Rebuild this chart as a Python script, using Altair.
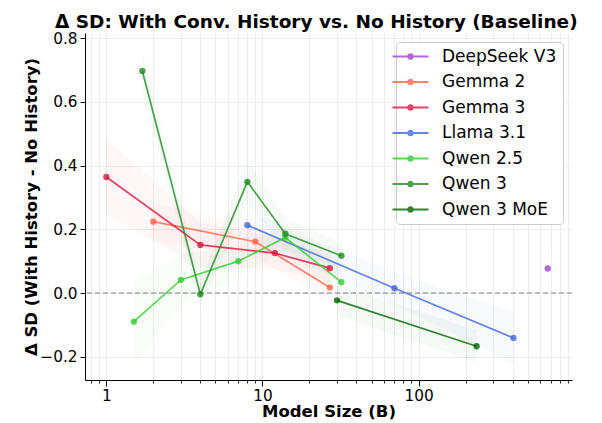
import altair as alt
import pandas as pd

families = ["DeepSeek V3", "Gemma 2", "Gemma 3", "Llama 3.1", "Qwen 2.5", "Qwen 3", "Qwen 3 MoE"]
colors = ["#a040d8", "#ff6347", "#dc143c", "#4169e1", "#32cd32", "#228b22", "#006400"]

deepseek_size = [671]
deepseek_delta = [0.077]
deepseek_err = [0.045]

gemma2_size = [2, 9, 27]
gemma2_delta = [0.224, 0.161, 0.017]
gemma2_err = [0.06, 0.05, 0.045]

gemma3_size = [1, 4, 12, 27]
gemma3_delta = [0.364, 0.151, 0.125, 0.078]
gemma3_err = [0.12, 0.07, 0.05, 0.045]

llama_size = [8, 70, 405]
llama_delta = [0.213, 0.015, -0.141]
llama_err = [0.04, 0.05, 0.08]

qwen25_size = [1.5, 3, 7, 14, 32]
qwen25_delta = [-0.090, 0.041, 0.100, 0.174, 0.034]
qwen25_err = [0.13, 0.08, 0.05, 0.04, 0.04]

qwen3_size = [1.7, 4, 8, 14, 32]
qwen3_delta = [0.697, -0.004, 0.349, 0.186, 0.117]
qwen3_err = [0.06, 0.04, 0.07, 0.05, 0.04]

qwen3moe_size = [30, 235]
qwen3moe_delta = [-0.023, -0.167]
qwen3moe_err = [0.05, 0.05]

x_major = [1, 10, 100]
x_minor_ticks = [0.8, 0.9, 2, 3, 4, 5, 6, 7, 8, 9, 20, 30, 40, 50, 60, 70, 80, 90,
                 200, 300, 400, 500, 600, 700, 800, 900]
y_ticks = [-0.2, 0.0, 0.2, 0.4, 0.6, 0.8]

series = [
    ("DeepSeek V3", deepseek_size, deepseek_delta, deepseek_err),
    ("Gemma 2", gemma2_size, gemma2_delta, gemma2_err),
    ("Gemma 3", gemma3_size, gemma3_delta, gemma3_err),
    ("Llama 3.1", llama_size, llama_delta, llama_err),
    ("Qwen 2.5", qwen25_size, qwen25_delta, qwen25_err),
    ("Qwen 3", qwen3_size, qwen3_delta, qwen3_err),
    ("Qwen 3 MoE", qwen3moe_size, qwen3moe_delta, qwen3moe_err),
]
rows = []
for fam, xs, ys, es in series:
    for x, y, e in zip(xs, ys, es):
        rows.append({"family": fam, "size": x, "delta": y, "lo": y - e, "hi": y + e})
df = pd.DataFrame(rows)

all_x = sorted(x_major + x_minor_ticks)
is_major = "abs(log(datum.value)/LN10 - round(log(datum.value)/LN10)) < 0.000001"

xscale = alt.Scale(type="log", domain=[0.73, 960], nice=False)
yscale = alt.Scale(domain=[-0.273, 0.816], nice=False, zero=False)
# legend scale has an explicit domain; the helper scales (bands, lines) derive the
# same alphabetical order from the data, so their disabled legends are not merged
legend_scale = alt.Scale(domain=families, range=colors)
helper_scale = alt.Scale(range=colors)

x_enc = alt.X("size:Q", scale=xscale,
              axis=alt.Axis(values=all_x, title="Model Size (B)",
                            labelExpr="(" + is_major + ") ? datum.value : ''",
                            tickSize={"condition": {"test": is_major, "value": 6}, "value": 3},
                            tickWidth={"condition": {"test": is_major, "value": 1}, "value": 0.8},
                            labelFontSize=15.3, labelPadding=2, labelFlush=False,
                            titleFontSize=16.5, titleFontWeight="bold", titlePadding=0))
y_enc = alt.Y("delta:Q", scale=yscale,
              axis=alt.Axis(values=y_ticks, format=".1f", title="Δ SD (With History - No History)",
                            labelFontSize=15.3, tickSize=5, labelPadding=3,
                            titleFontSize=16.5, titleFontWeight="bold", titlePadding=0))

base = alt.Chart(df)

bands = base.mark_area(opacity=0.035).encode(
    x=alt.X("size:Q", scale=xscale),
    y=alt.Y("lo:Q", scale=yscale),
    y2="hi:Q",
    fill=alt.Fill("family:N", scale=helper_scale, legend=None),
    detail="family:N",
)

single = base.transform_filter(alt.datum.family == "DeepSeek V3").mark_rule(opacity=0.06, strokeWidth=1).encode(
    x=alt.X("size:Q", scale=xscale),
    y=alt.Y("lo:Q", scale=yscale),
    y2="hi:Q",
    stroke=alt.Stroke("family:N", scale=helper_scale, legend=None),
)

zero_df = pd.DataFrame({"y": [0.0]})
zero_line = alt.Chart(zero_df).mark_rule(color="#808080", strokeDash=[5, 3], strokeWidth=1).encode(
    y=alt.Y("y:Q", scale=yscale)
)

lines = base.mark_line(strokeWidth=1.7, opacity=0.8).encode(
    x=x_enc, y=y_enc,
    stroke=alt.Stroke("family:N", scale=helper_scale, legend=None),
    detail="family:N",
)

# legend glyph: short line with a dot (path overflows the nominal symbol box horizontally)
sym_path = ("M-2.25,-0.125L2.25,-0.125L2.25,0.125L-2.25,0.125Z"
            "M-0.42,0A0.42,0.42,0,1,1,0.42,0A0.42,0.42,0,1,1,-0.42,0Z")

points = base.mark_point(filled=True, size=40, opacity=0.8).encode(
    x=alt.X("size:Q", scale=xscale),
    y=alt.Y("delta:Q", scale=yscale),
    color=alt.Color("family:N", scale=legend_scale,
                    legend=alt.Legend(orient="top-right", offset=9,
                                      fillColor="white", strokeColor="#cccccc",
                                      cornerRadius=4, padding=6,
                                      labelFontSize=17, labelFont="DejaVu Sans",
                                      symbolType=sym_path, symbolSize=256,
                                      symbolStrokeWidth=0, symbolOpacity=0.8,
                                      labelOffset=23, rowPadding=7.5)),
)

chart = alt.layer(bands, single, zero_line, lines, points).properties(
    width=487, height=347,
    title=alt.Title("Δ SD: With Conv. History vs. No History (Baseline)",
                    fontSize=18.5, fontWeight="bold", font="DejaVu Sans", offset=0,
                    anchor="start", frame="group", dx=-30),
    padding={"left": 85, "top": 33, "right": 30, "bottom": 43},
    autosize=alt.AutoSizeParams(type="none"),
).configure(font="DejaVu Sans").configure_view(stroke=None).configure_axis(
    domainColor="black", domainWidth=1, tickColor="black",
    labelColor="black", titleColor="black",
    gridColor="#e8e8e8", gridWidth=0.8, grid=True,
    labelFont="DejaVu Sans", titleFont="DejaVu Sans",
).configure_legend(title=None)

chart.save("out.html", embed_options={"renderer": "svg", "actions": False})
